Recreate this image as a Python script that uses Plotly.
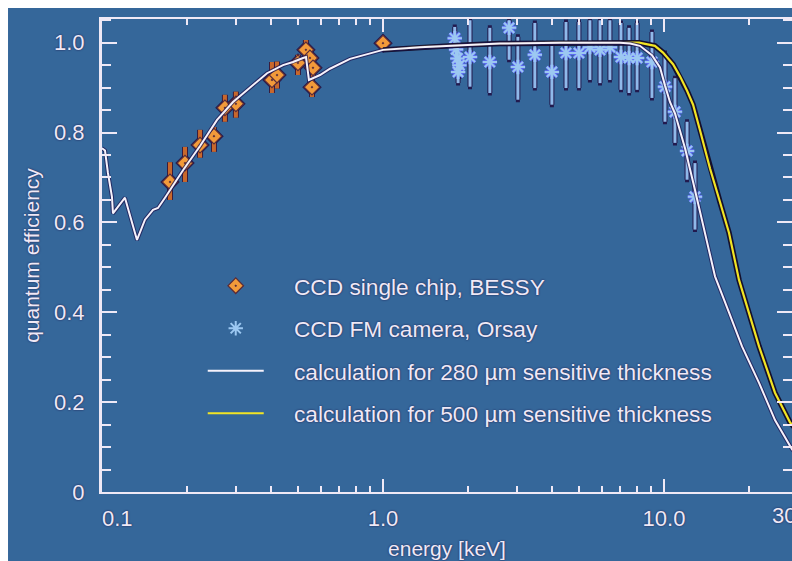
import plotly.graph_objects as go

# ---------------------------------------------------------------- data
# calculated quantum efficiency, 280 um sensitive thickness
calc280_energy = [0.100, 0.1025, 0.1050, 0.1085, 0.1094, 0.1207, 0.1332, 0.1422,
                  0.1519, 0.1582, 0.1676, 0.1746, 0.1942, 0.2233, 0.2567, 0.2926,
                  0.3363, 0.3866, 0.4407, 0.4783, 0.5192, 0.532, 0.545, 0.597,
                  0.6476, 0.7629, 1.0, 1.354, 1.834, 2.609, 4.264, 6.974, 7.57,
                  8.21, 9.06, 9.68, 10.08, 10.50, 10.94, 11.88, 12.89, 13.99,
                  15.19, 17.03, 18.95, 21.79, 24.83, 28.55, 30.0]
calc280_qe = [0.765, 0.76, 0.71, 0.657, 0.62, 0.655, 0.561, 0.606,
              0.628, 0.632, 0.655, 0.672, 0.716, 0.770, 0.828, 0.868,
              0.901, 0.932, 0.950, 0.957, 0.966, 0.968, 0.917, 0.928,
              0.942, 0.964, 0.984, 0.990, 0.994, 0.998, 1.0, 1.0, 0.998,
              0.993, 0.972, 0.945, 0.905, 0.868, 0.843, 0.765, 0.672, 0.575,
              0.48, 0.40, 0.324, 0.243, 0.16, 0.095, 0.082]

# calculated quantum efficiency, 500 um sensitive thickness
calc500_energy = [1.0, 1.354, 1.834, 2.609, 4.264, 6.974, 8.15, 9.28, 9.92,
                  10.77, 11.40, 12.08, 12.69, 13.43, 14.58, 15.83, 17.03,
                  18.49, 21.79, 24.83, 28.08, 30.0]
calc500_qe = [0.984, 0.990, 0.994, 0.998, 1.0, 1.0, 1.0, 0.993, 0.978,
              0.952, 0.925, 0.893, 0.862, 0.805, 0.72, 0.645, 0.577,
              0.472, 0.324, 0.221, 0.155, 0.135]

# CCD single chip, BESSY
bessy_energy = [0.1746, 0.1974, 0.2233, 0.2503, 0.2738, 0.2996, 0.4026, 0.4196,
                0.4982, 0.5317, 0.5496, 0.5635, 0.5589, 1.0]
bessy_qe = [0.690, 0.732, 0.772, 0.792, 0.855, 0.864, 0.917, 0.928,
            0.955, 0.984, 0.966, 0.944, 0.901, 0.999]
bessy_err_plus = [0.044, 0.036, 0.034, 0.020, 0.029, 0.027, 0.040, 0.030,
                  0.018, 0.022, 0.020, 0.020, 0.020, 0.010]
bessy_err_minus = [0.040, 0.042, 0.028, 0.035, 0.031, 0.031, 0.029, 0.030,
                   0.027, 0.022, 0.020, 0.020, 0.022, 0.010]

# CCD FM camera, Orsay
orsay_energy = [1.80, 1.82, 1.84, 1.87, 1.85, 2.04, 2.40, 2.81, 3.02, 3.47,
                3.99, 4.48, 4.98, 5.45, 5.92, 6.42, 7.03, 7.51, 8.02, 9.06,
                10.08, 10.94, 12.08, 12.89]
orsay_qe = [1.010, 0.985, 0.965, 0.950, 0.935, 0.968, 0.957, 1.033, 0.946, 0.973,
            0.935, 0.977, 0.977, 0.990, 0.984, 0.990, 0.968, 0.966, 0.966, 0.957,
            0.902, 0.846, 0.759, 0.657]
orsay_err_plus = [0.025, 0.025, 0.025, 0.025, 0.025, 0.082, 0.076, 0.017, 0.067, 0.071,
                  0.064, 0.069, 0.069, 0.060, 0.066, 0.060, 0.076, 0.067, 0.078, 0.067,
                  0.075, 0.075, 0.065, 0.075]
orsay_err_minus = [0.025, 0.025, 0.025, 0.025, 0.025, 0.066, 0.069, 0.071, 0.073, 0.074,
                   0.073, 0.078, 0.078, 0.073, 0.074, 0.073, 0.073, 0.078, 0.071, 0.080,
                   0.078, 0.069, 0.064, 0.073]

# axis labelling
x_tick_vals = [0.1, 1.0, 10.0]
x_tick_text = ["\u00a0\u00a0\u00a0\u00a0\u00a00.1", "1.0", "10.0"]
x_minor_vals = [0.2, 0.3, 0.4, 0.5, 0.6, 0.7, 0.8, 0.9,
                2, 3, 4, 5, 6, 7, 8, 9, 20]
y_tick_vals = [0, 0.2, 0.4, 0.6, 0.8, 1.0]
y_tick_text = ["0", "0.2", "0.4", "0.6", "0.8", "1.0"]

# ---------------------------------------------------------------- style
BG = "#35679a"
TEXT = "#efe9f6"
DARK = "#221a4e"
FONT = "Liberation Sans"
SHADOW = "0px 0px 2px #1c1448"
GAP = "\u00a0\u00a0\u00a0\u00a0"          # extra room between legend key and text
X_RANGE = [-1.0, 1.4555]
Y_RANGE = [0.0, 1.0527]

fig = go.Figure()

# Orsay error bars and markers (dark outline underneath, light blue on top)
fig.add_trace(go.Scatter(
    x=orsay_energy, y=orsay_qe, mode="markers", showlegend=False, hoverinfo="skip",
    marker=dict(symbol="asterisk-open", size=12, line=dict(color=DARK, width=3.5)),
    error_y=dict(type="data", symmetric=False, array=orsay_err_plus,
                 arrayminus=orsay_err_minus, color=DARK, thickness=5, width=2),
))
fig.add_trace(go.Scatter(
    x=orsay_energy, y=orsay_qe, mode="markers", name=GAP + "CCD FM camera, Orsay",
    legendgroup="b", legendrank=2,
    marker=dict(symbol="asterisk-open", size=12, color="#9cc8f2",
                line=dict(color="#9cc8f2", width=2)),
    error_y=dict(type="data", symmetric=False, array=orsay_err_plus,
                 arrayminus=orsay_err_minus, color="#8fb9ea", thickness=3, width=0),
))

# BESSY error bars and markers
fig.add_trace(go.Scatter(
    x=bessy_energy, y=bessy_qe, mode="markers", showlegend=False, hoverinfo="skip",
    marker=dict(symbol="diamond", size=15, color=DARK),
    error_y=dict(type="data", symmetric=False, array=bessy_err_plus,
                 arrayminus=bessy_err_minus, color="#3a1c3c", thickness=6, width=0),
))
fig.add_trace(go.Scatter(
    x=bessy_energy, y=bessy_qe, mode="markers", name=GAP + "CCD single chip, BESSY",
    legendgroup="a", legendrank=1,
    marker=dict(symbol="diamond-dot", size=12, color="#f29a3a",
                line=dict(color="#5a2c3a", width=1.2)),
    error_y=dict(type="data", symmetric=False, array=bessy_err_plus,
                 arrayminus=bessy_err_minus, color="#c8682c", thickness=4, width=0),
))

# calculated curves: dark halo first, coloured line on top
fig.add_trace(go.Scatter(
    x=calc500_energy, y=calc500_qe, mode="lines", showlegend=False, hoverinfo="skip",
    line=dict(color="#140f2c", width=5.5),
))
fig.add_trace(go.Scatter(
    x=calc500_energy, y=calc500_qe, mode="lines", legendgroup="d", legendrank=4,
    name=GAP + "calculation for 500 \u00b5m sensitive thickness",
    line=dict(color="#f2e424", width=2.2),
))
fig.add_trace(go.Scatter(
    x=calc280_energy, y=calc280_qe, mode="lines", showlegend=False, hoverinfo="skip",
    line=dict(color="rgba(30,22,80,0.75)", width=4),
))
fig.add_trace(go.Scatter(
    x=calc280_energy, y=calc280_qe, mode="lines", legendgroup="c", legendrank=3,
    name=GAP + "calculation for 280 \u00b5m sensitive thickness",
    line=dict(color="#f6f2fb", width=2),
))

# empty trace so the right-hand tick axis is drawn
fig.add_trace(go.Scatter(x=[None], y=[None], yaxis="y2", showlegend=False,
                         hoverinfo="skip"))

tick_font = dict(family=FONT, size=22, color=TEXT, shadow=SHADOW)

fig.update_layout(
    width=792, height=561,
    margin=dict(l=102, r=0, t=19, b=69),
    paper_bgcolor="white",
    plot_bgcolor=BG,
    font=dict(family=FONT, size=22, color=TEXT),
    showlegend=True,
    legend=dict(
        x=0.146, y=0.481, xanchor="left", yanchor="top",
        bgcolor="rgba(0,0,0,0)", borderwidth=0,
        font=dict(family=FONT, size=22.7, color=TEXT, shadow=SHADOW),
        itemwidth=56, tracegroupgap=10, traceorder="grouped",
    ),
    xaxis=dict(
        type="log", range=X_RANGE,
        tickmode="array", tickvals=x_tick_vals, ticktext=x_tick_text,
        ticks="inside", ticklen=13, tickwidth=2, tickcolor=TEXT,
        minor=dict(tickmode="array", tickvals=x_minor_vals, ticks="inside",
                   ticklen=6, tickwidth=2, tickcolor=TEXT),
        showline=True, linecolor=TEXT, linewidth=2, mirror="ticks",
        showgrid=False, zeroline=False,
        tickfont=tick_font, ticklabelstandoff=6,
        title=dict(text="energy [keV]", font=dict(family=FONT, size=21,
                                                  color=TEXT, shadow=SHADOW),
                   standoff=11),
    ),
    yaxis=dict(
        range=Y_RANGE,
        tickmode="array", tickvals=y_tick_vals, ticktext=y_tick_text,
        ticks="inside", ticklen=15, tickwidth=2, tickcolor=TEXT,
        minor=dict(dtick=0.05, tick0=0, ticks="inside", ticklen=9,
                   tickwidth=2, tickcolor=TEXT),
        showline=True, linecolor=TEXT, linewidth=3,
        showgrid=False, zeroline=False,
        tickfont=tick_font, ticklabelstandoff=10,
        title=dict(text="quantum efficiency", font=dict(family=FONT, size=21,
                                                        color=TEXT, shadow=SHADOW),
                   standoff=9),
    ),
    yaxis2=dict(
        overlaying="y", side="right", anchor="x", range=Y_RANGE,
        tickmode="array", tickvals=y_tick_vals, showticklabels=False,
        ticks="inside", ticklen=15, tickwidth=2, tickcolor=TEXT,
        minor=dict(dtick=0.05, tick0=0, ticks="inside", ticklen=9,
                   tickwidth=2, tickcolor=TEXT),
        showline=False, showgrid=False, zeroline=False,
    ),
    shapes=[dict(type="rect", xref="paper", yref="paper",
                 x0=-0.1362, x1=1.02, y0=-0.2, y1=1.0233,
                 fillcolor=BG, line=dict(width=0), layer="below")],
    annotations=[dict(text="30", xref="paper", yref="paper", x=1.0087, y=0,
                      xanchor="right", yanchor="top", yshift=-9, showarrow=False,
                      font=tick_font)],
)

fig.write_html("out.html")
